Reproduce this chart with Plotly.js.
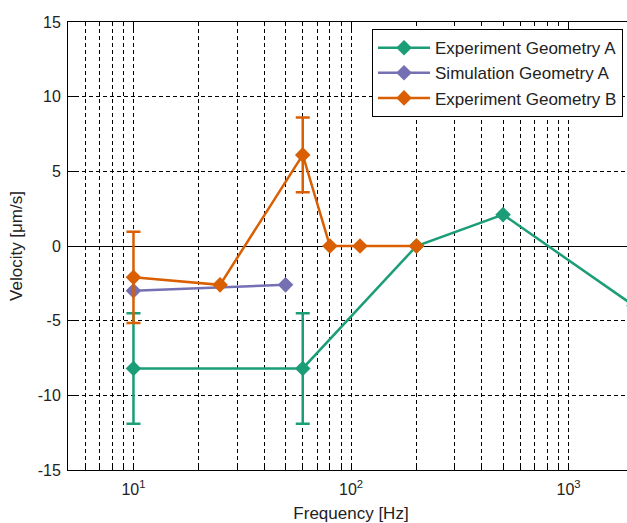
<!DOCTYPE html>
<html>
<head>
<meta charset="utf-8">
<script src="https://cdn.plot.ly/plotly-3.0.1.min.js"></script>
<style>
html, body { margin: 0; padding: 0; overflow: hidden; background: #fff; }
#chart { width: 650px; height: 523px; }
</style>
</head>
<body>
<div id="chart"></div>
<script>
// Data
var seriesNames = ['Experiment Geometry A', 'Simulation Geometry A', 'Experiment Geometry B'];

var expAFreq = [10, 60, 200, 500, 2000];
var expAVel = [-8.2, -8.2, 0, 2.1, -4.0];
var expAErr = [3.7, 3.7, NaN, NaN, NaN];

var simAFreq = [10, 50];
var simAVel = [-3.0, -2.6];

var expBFreq = [10, 25, 60, 80, 110, 200];
var expBVel = [-2.1, -2.6, 6.1, 0, 0, 0];
var expBErr = [3.05, NaN, 2.5, NaN, NaN, NaN];

var xMajorTicks = [10, 100, 1000];
var xMajorText = ['10<sup>1</sup>', '10<sup>2</sup>', '10<sup>3</sup>'];
var xMinorTicks = [5, 6, 7, 8, 9, 20, 30, 40, 50, 60, 70, 80, 90,
                   200, 300, 400, 500, 600, 700, 800, 900, 2000];

var yTicks = [-15, -10, -5, 0, 5, 10, 15];
var yTickText = ['-15', '-10', '-5', '0', '5', '10', '15'];

var colors = ['#1b9e77', '#7570b3', '#d95f02'];

function trace(x, y, err, name, color) {
  var t = {
    x: x, y: y, name: name, type: 'scatter', mode: 'lines+markers',
    line: {color: color, width: 2.5},
    marker: {symbol: 'diamond', size: 12, color: color}
  };
  if (err) {
    t.error_y = {type: 'data', array: err, visible: true, color: color, thickness: 2.5, width: 7};
  }
  return t;
}

var data = [
  trace(expAFreq, expAVel, expAErr, seriesNames[0], colors[0]),
  trace(simAFreq, simAVel, null, seriesNames[1], colors[1]),
  trace(expBFreq, expBVel, expBErr, seriesNames[2], colors[2])
];

var gridDash = '4px,3px';
var txt = '#222';
var layout = {
  width: 650, height: 523,
  margin: {l: 68, r: 16, t: 22, b: 53},
  paper_bgcolor: '#fff', plot_bgcolor: '#fff',
  font: {family: '"Liberation Sans", Arial, sans-serif', size: 16, color: txt},
  showlegend: true,
  legend: {
    x: 0.9806, xanchor: 'right', y: 0.984, yanchor: 'top',
    bgcolor: '#fff', bordercolor: '#000', borderwidth: 1,
    itemwidth: 52,
    font: {size: 17, color: txt}
  },
  xaxis: {
    type: 'log',
    range: [Math.log10(5), Math.log10(2000)],
    tickmode: 'array', tickvals: xMajorTicks, ticktext: xMajorText,
    ticks: 'inside', ticklen: 7, tickcolor: '#000', tickwidth: 1,
    showline: true, linecolor: '#000', linewidth: 1, mirror: 'ticks',
    showgrid: true, gridcolor: '#000', gridwidth: 1, griddash: gridDash,
    zeroline: false,
    minor: {tickmode: 'array', tickvals: xMinorTicks, ticks: 'inside', ticklen: 4,
            tickcolor: '#000', showgrid: true, gridcolor: '#000', gridwidth: 1, griddash: gridDash},
    tickfont: {size: 16, color: txt},
    ticklabelstandoff: 5,
    title: {text: 'Frequency [Hz]', font: {size: 17, color: txt}, standoff: 9}
  },
  yaxis: {
    range: [-15, 15], tickmode: 'array', tickvals: yTicks, ticktext: yTickText,
    ticks: 'inside', ticklen: 7, tickcolor: '#000', tickwidth: 1,
    showline: true, linecolor: '#000', linewidth: 1, mirror: 'ticks',
    showgrid: true, gridcolor: '#000', gridwidth: 1, griddash: gridDash,
    zeroline: true, zerolinecolor: '#000', zerolinewidth: 1,
    tickfont: {size: 16, color: txt},
    ticklabelstandoff: 3,
    title: {text: 'Velocity [\u03bcm/s]', font: {size: 17, color: txt}, standoff: 10}
  }
};

Plotly.newPlot('chart', data, layout, {displayModeBar: false, staticPlot: true});
</script>
</body>
</html>
